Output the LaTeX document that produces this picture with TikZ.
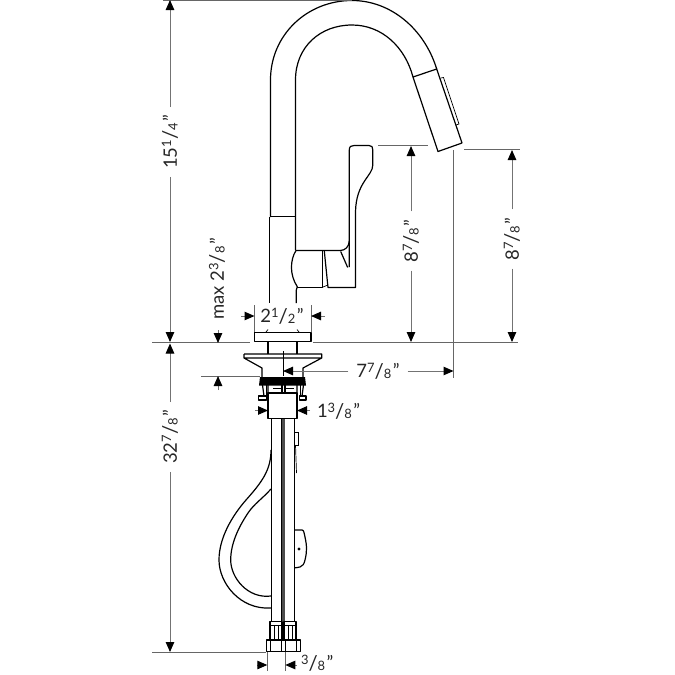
\documentclass[tikz,border=0pt]{standalone}
\usepackage{fontspec}
\setmainfont{Lato}
\usetikzlibrary{arrows.meta, positioning}
\newcommand{\frc}[2]{\raisebox{0.3em}{\scalebox{0.7}{#1}}\raisebox{-0.02em}{\scalebox{1.1}[1.1]{/}}\raisebox{-0.04em}{\scalebox{0.7}{#2}}\kern0.08em}

\begin{document}
\begin{tikzpicture}[
    x=1pt, y=-1pt,
    part/.style={draw=black, line width=1.2pt, line join=round},
    thinpart/.style={draw=black, line width=0.7pt},
    extline/.style={draw=black!60, line width=1pt},
    dimline/.style={draw=black!55, line width=1pt, -{Triangle[length=10pt, width=8.5pt, black]}},
    dimtext/.style={font=\fontsize{18.5}{18.5}\selectfont, inner sep=0pt, outer sep=8pt, text=black!85}
]
    \useasboundingbox (0,0) rectangle (675,675);

    % spout
    \draw [part] (270.5,217) -- (270.5,80) .. controls (270.5,35) and (307,0.5) .. (352,0.5) .. controls (390,0.5) and (424,28) .. (436.7,69);
    \draw [part] (295.5,250) -- (295.5,80) .. controls (295.5,47) and (320,25) .. (352,25) .. controls (382,25) and (405,47) .. (413,77);
    \draw [part] (413,77) -- (436.7,69) -- (462,143) -- (438,151.5) -- cycle;
    \draw [thinpart] (440.7,78) -- (443.5,77.5) -- (459,124) -- (456,125);
    \draw [part, line width=1.8pt] (270.5,216.5) -- (295.5,216.5);
    \draw [part] (269.5,217) -- (269.5,303);

    % handle and body
    \draw [part] (349.3,267) -- (349.3,150) .. controls (349.3,146.5) and (351,145.5) .. (354,145.5) -- (369,145.5) .. controls (372,145.5) and (372.8,147) .. (372.8,150) -- (372.8,165) .. controls (372.8,176) and (356,182) .. (355.5,212) -- (355.5,287.5) -- (328,287.5) -- (324.3,251);
    \draw [part] (340.7,251.5) -- (347.7,267.5);
    \draw [part] (295.5,250.5) -- (340,250.5) .. controls (345,250.5) and (349,247) .. (349.3,241);
    \draw [part] (296,250.5) .. controls (290,260) and (289.5,275) .. (297.3,286.7) -- (296.3,290) -- (296.3,303);
    \draw [part] (297.3,287.3) -- (322.3,287.3) -- (322.3,251);
    \draw [thinpart] (322.3,287.3) -- (328,285);

    % top plate
    \draw [part] (254.5,332.5) rectangle (311,341.5);
    \draw [thinpart] (266,332) -- (268,329.5) (297,329.5) -- (299,332);

    % flange under the deck
    \draw [part] (268,342) -- (268,354) (297,342) -- (297,354);
    \draw [part] (244,354) -- (321.7,354) -- (321.7,358) -- (303,368) -- (303,378) (244,354) -- (244,358) -- (262,368) -- (262,378) (244,358) -- (321.7,358);

    % lock ring
    \fill [black] (260,377) -- (305,377) -- (306,385.5) -- (259,385.5) -- cycle;
    \draw [part] (262.5,385) -- (264,396) (268,385) -- (268,393) (303.5,385) -- (302,396) (297,385) -- (297,393);
    \draw [thinpart] (266,385) -- (266,396) (300,385) -- (300,396) (273,388) -- (281.5,388) (285,388) -- (294,388);
    \draw [part] (282,385) -- (282,393) (285,385) -- (285,393);
    \draw [part] (258.5,396) rectangle (266.5,400);
    \draw [part] (299.5,396) rectangle (306,400);

    % block and supply pipes
    \draw [part] (268,393) rectangle (297,418.5);
    \draw [part] (271.5,418.5) -- (271.5,621);
    \draw [part] (281.7,418.5) -- (281.7,621);
    \draw [part] (284.5,418.5) -- (284.5,621);
    \draw [part] (294.3,418.5) -- (294.3,621);
    \fill [black!70] (281.7,418.5) rectangle (284.5,621);
    \draw [thinpart] (294.5,432) -- (298,432) -- (298,445) -- (294.5,445);
    \draw [thinpart] (295.5,445) -- (296.5,473);

    % clip on the pipe
    \draw [part] (294.3,530) -- (302,530) .. controls (304,530) and (304,533) .. (305,537) .. controls (307,546) and (307,552) .. (305,560) .. controls (304,564) and (303,566) .. (300,567) -- (294.3,568);
    \fill [black] (299,549) circle (1.7pt);

    % pull-out hose
    \draw [part] (271,450) .. controls (271,470) and (262,482) .. (246,500) .. controls (232,516) and (219,538) .. (219,560) .. controls (219,583) and (240,610) .. (271,608);
    \draw [part] (271,489) .. controls (262,499) and (254,504) .. (248,513) .. controls (238,528) and (230.7,544) .. (230.7,560) .. controls (230.7,578) and (248,599) .. (271,596);

    % connector nuts
    \draw [part] (270,621.5) rectangle (282,640);
    \draw [part] (284,621.5) rectangle (296,640);
    \draw [thinpart] (270,625) -- (296,625) (274,625) -- (274,640) (278,625) -- (278,640) (288,625) -- (288,640) (292,625) -- (292,640);
    \draw [part] (266.7,640) rectangle (300.7,651.5);
    \draw [thinpart] (270.7,640) -- (270.7,651.5) (281,640) -- (281,651.5) (285,640) -- (285,651.5) (296,640) -- (296,651.5);

    % extension lines
    \coordinate (topL) at (163,0);
    \coordinate (topR) at (352,0);
    \coordinate (deckL) at (152,342.5);
    \coordinate (deckM) at (250,342.5);
    \coordinate (deckN) at (313,342);
    \coordinate (deckR) at (518,342);
    \coordinate (botL) at (152,652);
    \coordinate (botR) at (266,652);
    \coordinate (ringL) at (201,376);
    \coordinate (ringR) at (260,376);
    \path [extline] (topL) -- (topR);
    \path [extline] (deckL) -- (deckM);
    \path [extline] (deckN) -- (deckR);
    \path [extline] (botL) -- (botR);
    \path [extline] (ringL) -- (ringR);
    \path [extline] (378,145.5) -- (428,145.5);
    \path [extline] (464,149.5) -- (520,149.5);
    \path [extline] (453.5,150) -- (453.5,378);
    \path [extline] (254.5,305) -- (254.5,332);
    \path [extline] (311,305) -- (311,332);
    \path [extline] (267.3,652) -- (267.3,671);
    \path [extline] (285.3,652) -- (285.3,671);
    \path [draw=black, line width=0.8pt] (283,351) -- (283,376);

    % dimensions
    \node [dimtext, rotate=90] (height) at (170,142) {15\frc{1}{4}"};
    \path [dimline] (height) -- (170,0);
    \path [dimline] (height) -- (170,342);

    \node [dimtext, rotate=90] (depth) at (170,437) {32\frc{7}{8}"};
    \path [dimline] (depth) -- (170,343.5);
    \path [dimline] (depth) -- (170,652);

    \node [dimtext, rotate=90] (spoutA) at (411,241) {8\frc{7}{8}"};
    \path [dimline] (spoutA) -- (411,146);
    \path [dimline] (spoutA) -- (411,342);

    \node [dimtext, rotate=90] (spoutB) at (512,239) {8\frc{7}{8}"};
    \path [dimline] (spoutB) -- (512,150);
    \path [dimline] (spoutB) -- (512,342);

    \node [dimtext, rotate=90] (deck) at (217,279) {max 2\frc{3}{8}"};
    \coordinate (deckT) at (218,330);
    \coordinate (deckB) at (218,390);
    \path [dimline] (deckT) -- (218,343);
    \path [dimline] (deckB) -- (218,376);

    \node [dimtext] (reach) at (378,371) {7\frc{7}{8}"};
    \path [dimline] (reach) -- (283,371);
    \path [dimline] (reach) -- (453.5,371);

    \node [dimtext] (base) at (282,316) {2\frc{1}{2}"};
    \path [dimline] (241,316) -- (254.5,316);
    \path [dimline] (325,316) -- (311,316);

    \node [dimtext, anchor=west, outer sep=0pt] (shank) at (317,411) {1\frc{3}{8}"};
    \path [dimline] (255,410.5) -- (268,410.5);
    \path [dimline] (310,410.5) -- (297,410.5);

    \node [dimtext, anchor=west, outer sep=0pt] (pipe) at (301,663) {\frc{3}{8}"};
    \path [dimline] (257,665) -- (267.3,665);
    \path [dimline] (297,665) -- (285.3,665);
\end{tikzpicture}
\end{document}
